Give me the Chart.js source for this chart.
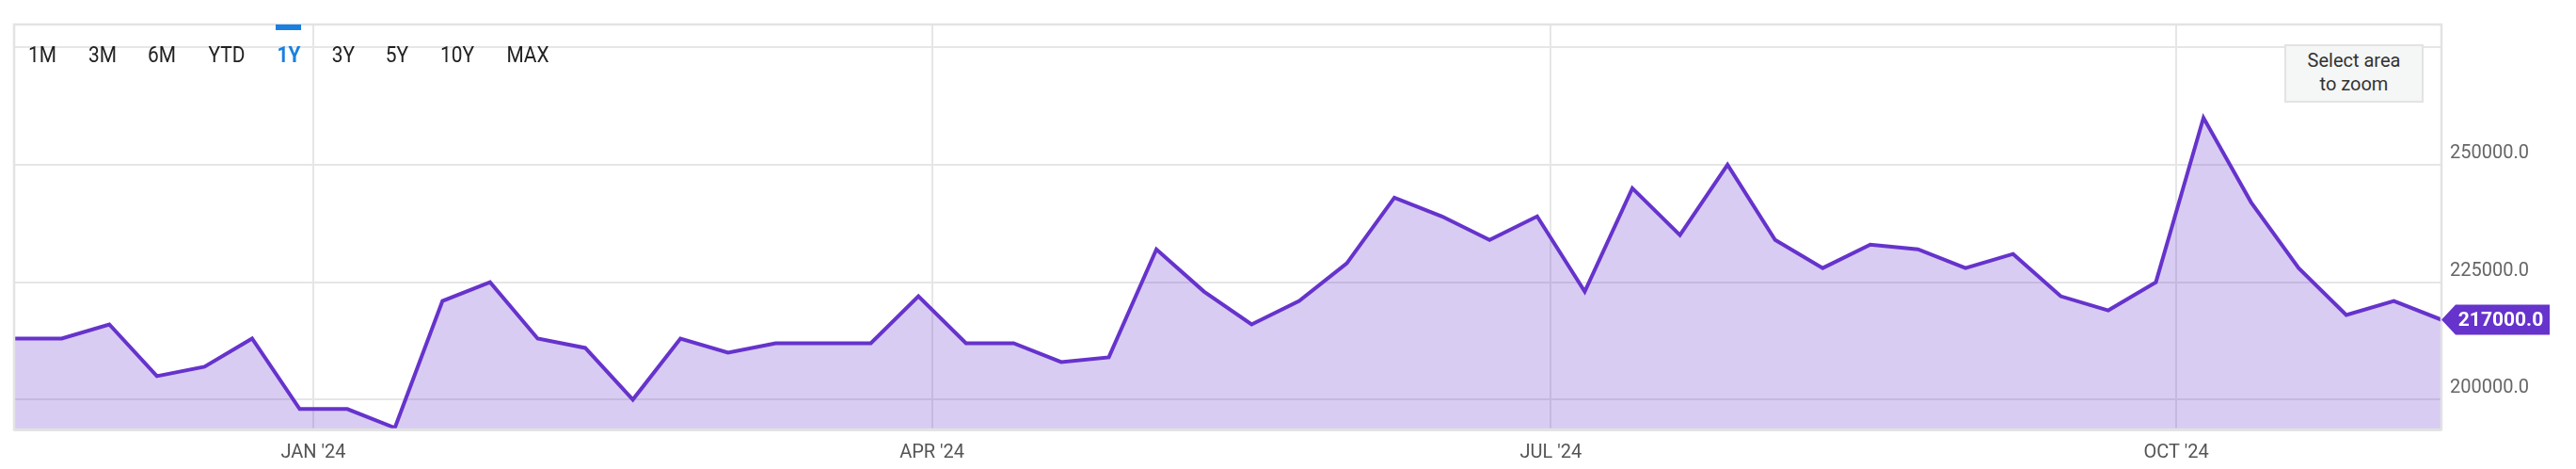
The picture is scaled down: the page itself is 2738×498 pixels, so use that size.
<!DOCTYPE html>
<html>
<head>
<meta charset="utf-8">
<script src="https://cdn.jsdelivr.net/npm/chart.js@4.4.1/dist/chart.umd.min.js"></script>
<style>
    html, body { margin: 0; padding: 0; background: #fff; }
    #wrap { position: relative; width: 2738px; height: 498px; overflow: hidden; }
    #claimsChart { position: absolute; left: 0; top: 0; }
    .range { position: absolute; top: 46px; font: 24px/24px Roboto, sans-serif; color: #222; white-space: nowrap;
             transform: translateX(-50%) scaleX(0.87); }
    .range.active { color: #1a7fe0; font-weight: bold; }
    #activeBar { position: absolute; left: 293px; top: 26px; width: 27px; height: 6px; background: #1a7fe0; }
    #zoomHint { position: absolute; left: 2428px; top: 47px; width: 148px; height: 62px; box-sizing: border-box;
                border: 2px solid #e3e3e3; background: #f5f6f6; color: #333; text-align: center;
                font: 20px/25px Roboto, sans-serif; padding-top: 3px; }
</style>
</head>
<body>
<div id="wrap">
    <canvas id="claimsChart" width="2738" height="498"></canvas>
    <div id="activeBar"></div>
    <div id="ranges"></div>
    <div id="zoomHint">Select area<br>to zoom</div>
</div>
<script>
// weekly data, week ending dates
const weekDates = [
    '2023-11-18', '2023-11-25', '2023-12-02', '2023-12-09', '2023-12-16', '2023-12-23', '2023-12-30',
    '2024-01-06', '2024-01-13', '2024-01-20', '2024-01-27', '2024-02-03', '2024-02-10', '2024-02-17',
    '2024-02-24', '2024-03-02', '2024-03-09', '2024-03-16', '2024-03-23', '2024-03-30', '2024-04-06',
    '2024-04-13', '2024-04-20', '2024-04-27', '2024-05-04', '2024-05-11', '2024-05-18', '2024-05-25',
    '2024-06-01', '2024-06-08', '2024-06-15', '2024-06-22', '2024-06-29', '2024-07-06', '2024-07-13',
    '2024-07-20', '2024-07-27', '2024-08-03', '2024-08-10', '2024-08-17', '2024-08-24', '2024-08-31',
    '2024-09-07', '2024-09-14', '2024-09-21', '2024-09-28', '2024-10-05', '2024-10-12', '2024-10-19',
    '2024-10-26', '2024-11-02', '2024-11-09'
];
const claims = [
    213000, 213000, 216000, 205000, 207000, 213000, 198000,
    198000, 194000, 221000, 225000, 213000, 211000, 200000,
    213000, 210000, 212000, 212000, 212000, 222000, 212000,
    212000, 208000, 209000, 232000, 223000, 216000, 221000,
    229000, 243000, 239000, 234000, 239000, 223000, 245000,
    235000, 250000, 234000, 228000, 233000, 232000, 228000,
    231000, 222000, 219000, 225000, 260000, 242000, 228000,
    218000, 221000, 217000
];
const xTickDates = ['2024-01-01', '2024-04-01', '2024-07-01', '2024-10-01'];
const xTickLabels = ["JAN '24", "APR '24", "JUL '24", "OCT '24"];
const yTicks = [200000, 225000, 250000, 275000];
const rangeButtons = ['1M', '3M', '6M', 'YTD', '1Y', '3Y', '5Y', '10Y', 'MAX'];
const rangeCenters = [45, 109, 172, 241, 307, 365, 422, 486, 561];

const LINE = '#6633cc';
const dayNum = d => Date.parse(d + 'T00:00:00Z') / 86400000;

// range selector row
const rangesEl = document.getElementById('ranges');
rangeButtons.forEach((r, i) => {
    const s = document.createElement('span');
    s.className = 'range' + (r === '1Y' ? ' active' : '');
    s.style.left = rangeCenters[i] + 'px';
    s.textContent = r;
    rangesEl.appendChild(s);
});

const framePlugin = {
    id: 'frame',
    afterDatasetsDraw(chart) {
        const { ctx, chartArea: a } = chart;
        ctx.save();
        ctx.strokeStyle = '#e3e3e3';
        ctx.lineWidth = 2.5;
        ctx.strokeRect(a.left, a.top, a.right - a.left, a.bottom - a.top);
        ctx.lineWidth = 3;
        ctx.beginPath();
        ctx.moveTo(a.left, a.bottom + 0.5);
        ctx.lineTo(a.right, a.bottom + 0.5);
        ctx.stroke();

        // last value badge
        const last = claims[claims.length - 1];
        const y = chart.scales.y.getPixelForValue(last);
        const x = a.right;
        ctx.fillStyle = LINE;
        ctx.beginPath();
        ctx.moveTo(x, y);
        ctx.lineTo(x + 15, y - 16);
        ctx.lineTo(x + 115, y - 16);
        ctx.lineTo(x + 115, y + 16);
        ctx.lineTo(x + 15, y + 16);
        ctx.closePath();
        ctx.fill();
        ctx.fillStyle = '#fff';
        ctx.font = 'bold 21px Roboto, sans-serif';
        ctx.textAlign = 'center';
        ctx.textBaseline = 'middle';
        ctx.fillText(last.toFixed(1), x + 63, y + 1);
        ctx.restore();
    }
};

const ctx = document.getElementById('claimsChart').getContext('2d');
new Chart(ctx, {
    type: 'line',
    data: {
        datasets: [{
            label: 'Initial Claims',
            data: weekDates.map((d, i) => ({ x: dayNum(d), y: claims[i] })),
            borderColor: LINE,
            borderWidth: 4,
            borderJoinStyle: 'miter',
            backgroundColor: 'rgba(102, 51, 204, 0.25)',
            fill: 'start',
            pointRadius: 0,
            tension: 0
        }]
    },
    options: {
        responsive: false,
        animation: false,
        devicePixelRatio: 1,
        layout: { padding: { left: 15, top: 26, right: 0, bottom: 0 } },
        plugins: {
            legend: { display: false },
            tooltip: { enabled: false }
        },
        scales: {
            x: {
                type: 'linear',
                min: dayNum(weekDates[0]),
                max: dayNum(weekDates[weekDates.length - 1]),
                afterBuildTicks: scale => { scale.ticks = xTickDates.map(d => ({ value: dayNum(d) })); },
                afterFit: scale => { scale.height = 42; },
                grid: { color: '#e6e6e6', lineWidth: 2, drawTicks: false },
                border: { display: false },
                ticks: {
                    autoSkip: false,
                    maxRotation: 0,
                    padding: 13,
                    color: '#555',
                    font: { family: 'Roboto, sans-serif', size: 20 },
                    callback: v => {
                        const i = xTickDates.findIndex(d => dayNum(d) === v);
                        return i >= 0 ? xTickLabels[i] : '';
                    }
                }
            },
            y: {
                position: 'right',
                min: 193650,
                max: 279850,
                afterBuildTicks: scale => { scale.ticks = yTicks.map(v => ({ value: v })); },
                afterFit: scale => { scale.width = 143; },
                grid: { color: '#e6e6e6', lineWidth: 2, drawTicks: false },
                border: { display: false },
                ticks: {
                    padding: 9,
                    labelOffset: -12,
                    color: '#666',
                    font: { family: 'Roboto, sans-serif', size: 20 },
                    callback: v => v === 275000 ? '' : v.toFixed(1)
                }
            }
        }
    },
    plugins: [framePlugin]
});
</script>
</body>
</html>
